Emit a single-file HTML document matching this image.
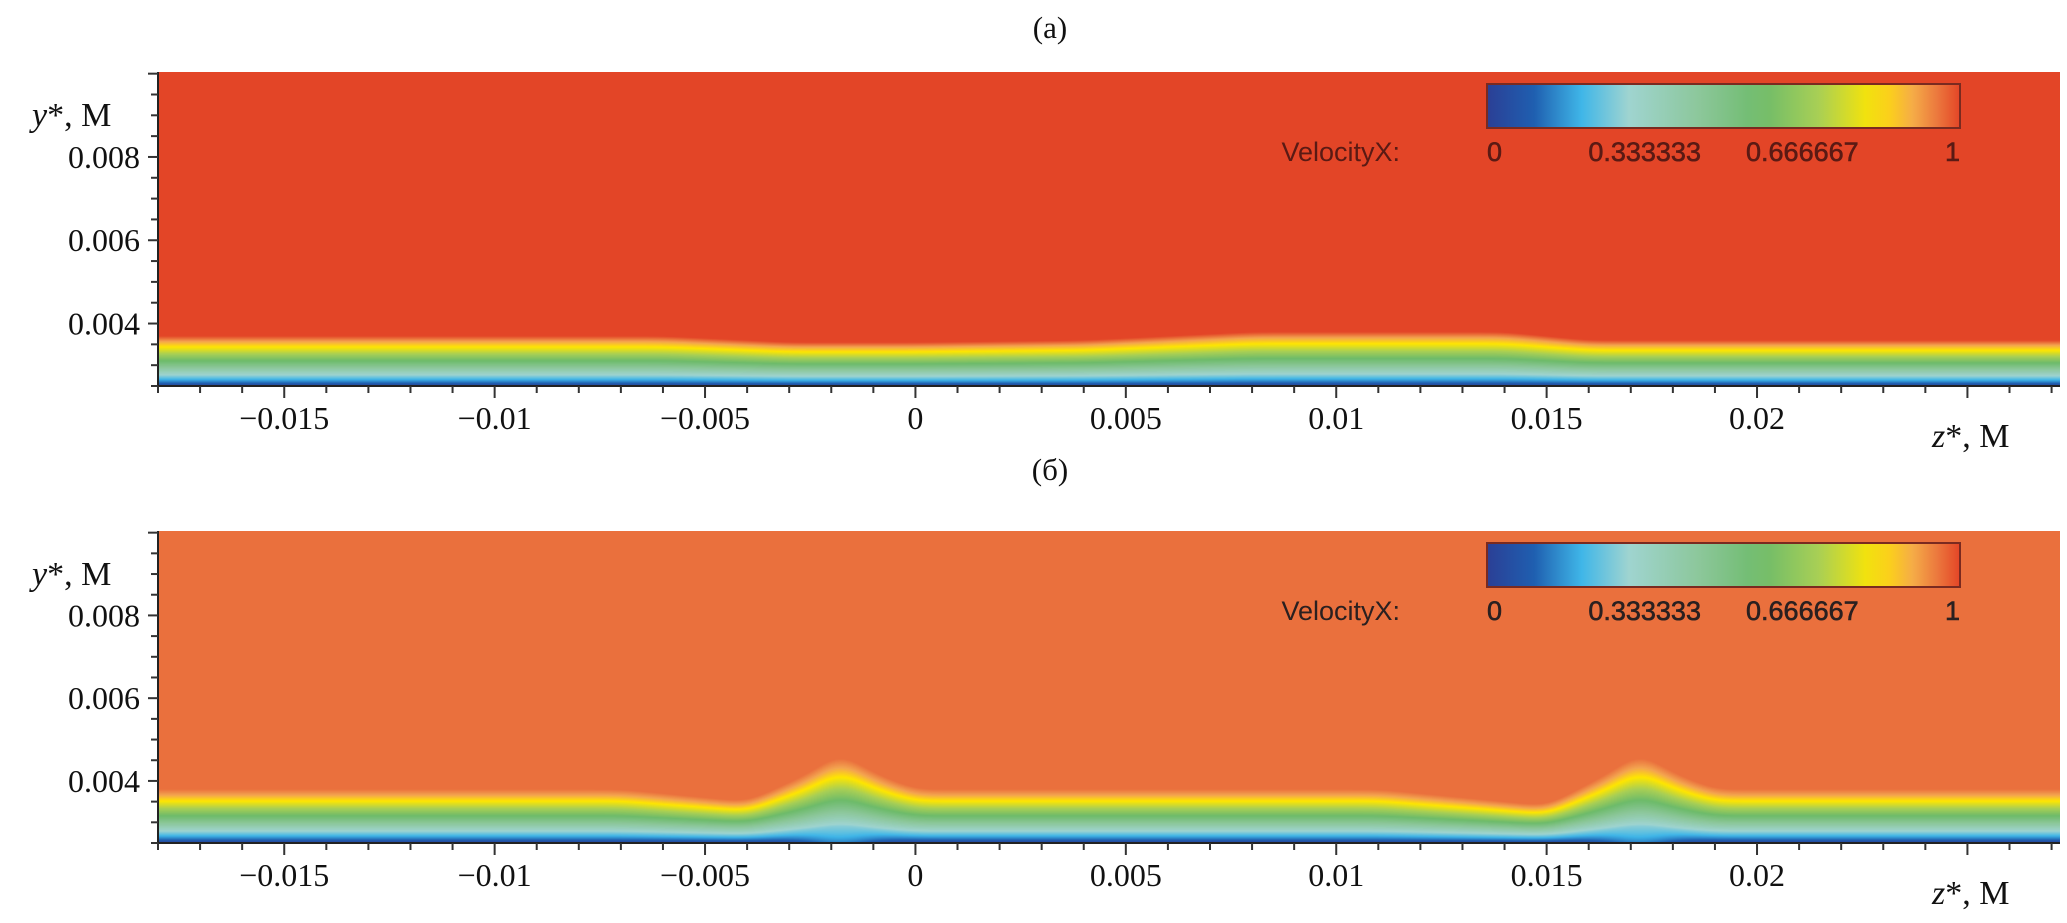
<!DOCTYPE html>
<html><head><meta charset="utf-8">
<style>
html,body{margin:0;padding:0;background:#fff;}
#root{position:relative;width:2067px;height:923px;overflow:hidden;font-family:"Liberation Serif",serif;}
canvas{position:absolute;}
svg{position:absolute;left:0;top:0;}
</style></head>
<body>
<div id="root">
<canvas id="cA"></canvas>
<canvas id="cB"></canvas>
<svg id="ov" width="2067" height="923"></svg>
</div>
<script>
// ---- data ----
const zTicks = [-0.015,-0.01,-0.005,0,0.005,0.01,0.015,0.02];
const zTickLabels = ["\u22120.015","\u22120.01","\u22120.005","0","0.005","0.01","0.015","0.02"];
const yTicks = [0.004,0.006,0.008];
const yTickLabels = ["0.004","0.006","0.008"];
const cbLabels = ["0","0.333333","0.666667","1"];
const cbValues = [0,0.333333,0.666667,1];
const zStationsA = [-0.018,-0.006,-0.003,0,0.004,0.008,0.014,0.016,0.0272];
const deltaA     = [0.0037,0.0037,0.00355,0.00355,0.0036,0.0038,0.0038,0.0036,0.0036];
const zStationsB = [-0.018,-0.007,-0.004,-0.0025,-0.0018,-0.001,0,0.011,0.013,0.015,0.0165,0.0172,0.018,0.019,0.0272];
const deltaB     = [0.0038,0.0038,0.0035,0.0042,0.0047,0.0042,0.0038,0.0038,0.0036,0.0034,0.0042,0.0047,0.0042,0.0038,0.0038];
const bumpCentersB = [-0.0018,0.0172];

const Z0=-0.018, Z1=0.0272, Y0=0.0025, Y1=0.01004;
const PL=158, PR=2060;
const panels=[{top:72,bot:386,canvas:'cA',z:zStationsA,d:deltaA,bg:[227,69,39],bumps:[],title:'(a)',titleY:38,id:'a'},
              {top:531,bot:843,canvas:'cB',z:zStationsB,d:deltaB,bg:[234,112,61],bumps:bumpCentersB,title:'(б)',titleY:480,id:'b'}];
const cmap=[[0,[43,63,149]],[0.1,[31,95,176]],[0.2,[63,182,232]],[0.3,[159,212,208]],[0.45,[140,199,154]],[0.58,[109,187,106]],[0.7,[168,207,85]],[0.82,[255,230,0]],[0.91,[244,165,80]],[1,[227,69,39]]];
function cm(u,top){u=Math.max(0,Math.min(1,u));
  for(let i=1;i<cmap.length;i++){if(u<=cmap[i][0]){const a=cmap[i-1],b=cmap[i];const t=(u-a[0])/(b[0]-a[0]);
    const bc=(i===cmap.length-1)?top:b[1];const ac=a[1];return [0,1,2].map(k=>ac[k]+(bc[k]-ac[k])*t);}}
  return top;}
function interp(xs,ys,x){if(x<=xs[0])return ys[0];for(let i=1;i<xs.length;i++){if(x<=xs[i]){const t=(x-xs[i-1])/(xs[i]-xs[i-1]);return ys[i-1]+(ys[i]-ys[i-1])*t;}}return ys[ys.length-1];}
function smoothDelta(xs,ys,z){let s=0,n=0;for(let k=-10;k<=10;k++){const w=Math.exp(-k*k/30);s+=w*interp(xs,ys,z+k*0.00008);n+=w;}return s/n;}
const NS='http://www.w3.org/2000/svg';
const ov=document.getElementById('ov');
function el(tag,attrs,txt){const e=document.createElementNS(NS,tag);for(const k in attrs)e.setAttribute(k,attrs[k]);if(txt!==undefined)e.textContent=txt;ov.appendChild(e);return e;}
panels.forEach(p=>{
  const xs=z=>PL+(z-Z0)/(Z1-Z0)*(PR-PL);
  const ys=y=>p.bot-(y-Y0)/(Y1-Y0)*(p.bot-p.top);
  const W=PR-PL,H=p.bot-p.top;
  const c=document.getElementById(p.canvas);c.width=W;c.height=H;c.style.left=PL+'px';c.style.top=p.top+'px';
  const ctx=c.getContext('2d');const img=ctx.createImageData(W,H);
  for(let i=0;i<W;i++){const z=Z0+(i+0.5)/W*(Z1-Z0);const d=smoothDelta(p.z,p.d,z);
    let wall=0;p.bumps.forEach(bc=>{wall+=Math.exp(-Math.pow((z-bc)/0.0009,2));});
    for(let j=0;j<H;j++){const y=Y1-(j+0.5)/H*(Y1-Y0);
      let eta=(y-Y0)/(d-Y0);let u;
      if(eta<=0)u=0;else u=Math.pow(Math.min(eta,1),0.8);
      if(eta<0.2&&wall>0)u=u+wall*0.12*(1-eta/0.2);
      const col=cm(u,p.bg);
      const o=(j*W+i)*4;img.data[o]=col[0];img.data[o+1]=col[1];img.data[o+2]=col[2];img.data[o+3]=255;}}
  ctx.putImageData(img,0,0);
  let ax=el('line',{x1:PL,y1:p.top,x2:PL,y2:p.bot,stroke:'#222','stroke-width':2});
  
  ax=el('line',{x1:PL,y1:p.bot,x2:PR,y2:p.bot,stroke:'#222','stroke-width':2});
  
  for(let k=0;k<=15;k++){const y=Y0+k*0.0005;if(y>Y1)break;const major=Math.abs((y*1000)%2)<1e-6;
    el('line',{x1:PL-(major?10:7),y1:ys(y),x2:PL,y2:ys(y),stroke:'#333','stroke-width':2});}
  for(let k=-18;k<=27;k++){const z=k*0.001;const major=k%5===0;
    el('line',{x1:xs(z),y1:p.bot,x2:xs(z),y2:p.bot+(major?12:7),stroke:'#333','stroke-width':2});}
  yTicks.forEach((v,i)=>{const t=el('text',{x:PL-18,y:ys(v)+11,'text-anchor':'end','font-size':32,'font-family':'Liberation Serif, serif',fill:'#111'},yTickLabels[i]);
    });
  zTicks.forEach((v,i)=>{const t=el('text',{x:xs(v),y:p.bot+43,'text-anchor':'middle','font-size':32,'font-family':'Liberation Serif, serif',fill:'#111'},zTickLabels[i]);
    });
  let t=el('text',{x:1050,y:p.titleY,'text-anchor':'middle','font-size':31,'font-family':'Liberation Serif, serif',fill:'#111'},p.title);
  
  t=el('text',{x:32,y:p.top+54,'font-size':34,'font-family':'Liberation Serif, serif',fill:'#111'});
  
  t.innerHTML='<tspan font-style="italic">y</tspan>*, M';
  t=el('text',{x:1932,y:p.bot+61,'font-size':34,'font-family':'Liberation Serif, serif',fill:'#111'});
  
  t.innerHTML='<tspan font-style="italic">z</tspan>*, M';
  const cbx0=1487,cbx1=1960,cby=p.top+12,cbh=44;
  const gid='grad'+p.id;
  const defs=el('defs',{});const lg=document.createElementNS(NS,'linearGradient');lg.setAttribute('id',gid);defs.appendChild(lg);
  for(let s=0;s<=20;s++){const u=s/20;const col=cm(u,[227,69,39]);const st=document.createElementNS(NS,'stop');
    st.setAttribute('offset',u);st.setAttribute('stop-color','rgb('+col.map(Math.round).join(',')+')');lg.appendChild(st);}
  const r=el('rect',{x:cbx0,y:cby,width:cbx1-cbx0,height:cbh,fill:'url(#'+gid+')',stroke:'#7a2a20','stroke-width':2});
  
  const lc=p.id==='a'?'#5a1a14':'#2a2020';
  t=el('text',{x:1400,y:cby+cbh+33,'text-anchor':'end','font-size':27,'font-family':'Liberation Sans, sans-serif',fill:lc},'VelocityX:');
  
  cbValues.forEach((v,i)=>{const x=cbx0+v*(cbx1-cbx0);const anc=i===0?'start':(i===cbValues.length-1?'end':'middle');
    const tt=el('text',{x:x,y:cby+cbh+33,'text-anchor':anc,'font-size':27,'font-family':'Liberation Sans, sans-serif',fill:lc,stroke:lc,'stroke-width':0.6},cbLabels[i]);
    });
});
</script>
</body></html>
